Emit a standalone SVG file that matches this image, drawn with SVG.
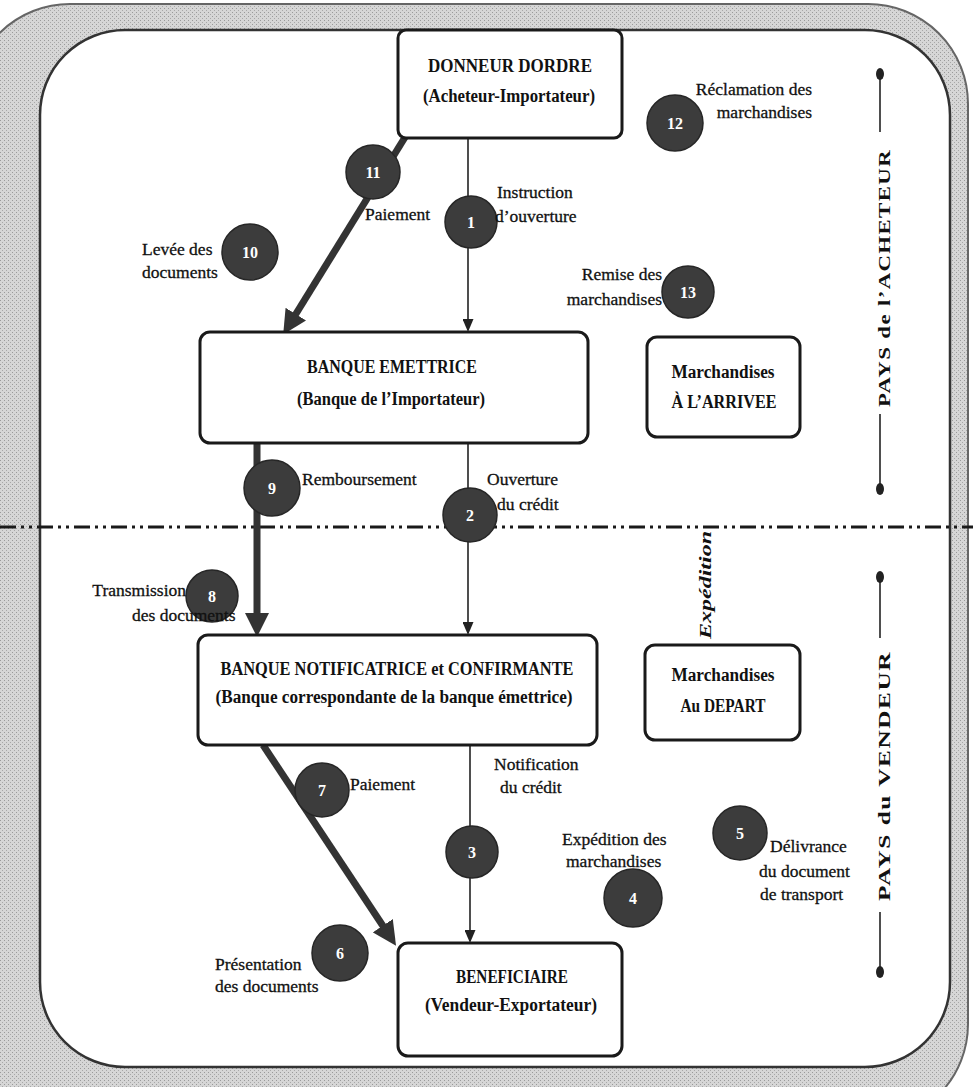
<svg xmlns="http://www.w3.org/2000/svg" width="973" height="1087" viewBox="0 0 973 1087">
<style>
.box{fill:#fff;stroke:#1a1a1a;stroke-width:3}
.title{font-family:"Liberation Serif",serif;font-weight:bold;font-size:18px;fill:#111;text-anchor:middle}
.lbl{font-family:"Liberation Serif",serif;font-size:17.5px;fill:#111;stroke:#111;stroke-width:0.3}
.num{font-family:"Liberation Serif",serif;font-weight:bold;font-size:16px;fill:#fff;text-anchor:middle}
.step{fill:#3c3c3c;stroke:#262626;stroke-width:1.5}
.thin{stroke:#222;stroke-width:1.6;fill:none}
.thick{stroke:#333;stroke-width:7;fill:none}
.side{font-family:"Liberation Serif",serif;font-weight:bold;font-size:17px;fill:#111;text-anchor:middle;letter-spacing:1px}
.sline{stroke:#222;stroke-width:1.6}
</style>
<defs>
<marker id="aThin" markerUnits="userSpaceOnUse" markerWidth="13" markerHeight="11" refX="2" refY="5.5" orient="auto">
<path d="M0,0 L13,5.5 L0,11 z" fill="#222"/>
</marker>
<marker id="aThick" markerUnits="userSpaceOnUse" markerWidth="24" markerHeight="24" refX="4" refY="12" orient="auto">
<path d="M0,0 L24,12 L0,24 z" fill="#333"/>
</marker>
<pattern id="grain" width="4" height="4" patternUnits="userSpaceOnUse">
<rect width="4" height="4" fill="#d6d6d6"/>
<rect x="0" y="0" width="1" height="1" fill="#9a9a9a"/>
<rect x="2" y="2" width="1" height="1" fill="#a8a8a8"/>
</pattern>
</defs>

<g id="frame">
<rect x="-30" y="4" width="998" height="1120" rx="100" fill="url(#grain)" stroke="#666" stroke-width="2"/>
<rect x="40" y="30" width="910" height="1037" rx="85" fill="#fff" stroke="#333" stroke-width="2.5"/>
</g>

<g id="separator">
<line x1="0" y1="527" x2="973" y2="527" stroke="#1a1a1a" stroke-width="3" stroke-dasharray="16 5 3 5 3 5"/>
</g>

<g id="connectors">
<line class="thick" x1="407" y1="134" x2="293.7" y2="317.5" marker-end="url(#aThick)"/>
<line class="thin" x1="468" y1="138" x2="468" y2="321" marker-end="url(#aThin)"/>
<line class="thick" x1="257" y1="443" x2="257" y2="617" marker-end="url(#aThick)"/>
<line class="thin" x1="468" y1="443" x2="468" y2="624" marker-end="url(#aThin)"/>
<line class="thick" x1="263" y1="745" x2="385" y2="929" marker-end="url(#aThick)"/>
<line class="thin" x1="470" y1="745" x2="470" y2="932" marker-end="url(#aThin)"/>
</g>

<g id="node-donneur">
<rect class="box" x="398" y="30" width="224" height="108" rx="8"/>
<text class="title" x="510" y="72" textLength="164" lengthAdjust="spacingAndGlyphs">DONNEUR DORDRE</text>
<text class="title" x="509" y="102" textLength="172" lengthAdjust="spacingAndGlyphs">(Acheteur-Importateur)</text>
</g>

<g id="node-emettrice">
<rect class="box" x="200" y="332" width="388" height="111" rx="10"/>
<text class="title" x="392" y="373" textLength="170" lengthAdjust="spacingAndGlyphs">BANQUE EMETTRICE</text>
<text class="title" x="391" y="405" textLength="188" lengthAdjust="spacingAndGlyphs">(Banque de l’Importateur)</text>
</g>

<g id="node-arrivee">
<rect class="box" x="647" y="337" width="153" height="100" rx="10"/>
<text class="title" x="723" y="378" textLength="103" lengthAdjust="spacingAndGlyphs">Marchandises</text>
<text class="title" x="724" y="408" textLength="105" lengthAdjust="spacingAndGlyphs">À L’ARRIVEE</text>
</g>

<g id="node-notificatrice">
<rect class="box" x="198" y="635" width="399" height="110" rx="10"/>
<text class="title" x="397" y="675" textLength="353" lengthAdjust="spacingAndGlyphs">BANQUE NOTIFICATRICE et CONFIRMANTE</text>
<text class="title" x="394" y="703" textLength="357" lengthAdjust="spacingAndGlyphs">(Banque correspondante de la banque émettrice)</text>
</g>

<g id="node-depart">
<rect class="box" x="645" y="645" width="155" height="95" rx="10"/>
<text class="title" x="723" y="681" textLength="103" lengthAdjust="spacingAndGlyphs">Marchandises</text>
<text class="title" x="723" y="712" textLength="85" lengthAdjust="spacingAndGlyphs">Au DEPART</text>
</g>

<g id="node-beneficiaire">
<rect class="box" x="398" y="943" width="224" height="113" rx="10"/>
<text class="title" x="512" y="983" textLength="112" lengthAdjust="spacingAndGlyphs">BENEFICIAIRE</text>
<text class="title" x="511" y="1011" textLength="172" lengthAdjust="spacingAndGlyphs">(Vendeur-Exportateur)</text>
</g>

<g id="step-1">
<circle class="step" cx="471" cy="222" r="26"/>
<text class="num" x="471" y="228">1</text>
<text class="lbl" x="497" y="198">Instruction</text>
<text class="lbl" x="495" y="222">d’ouverture</text>
</g>
<g id="step-2">
<circle class="step" cx="470" cy="515" r="27"/>
<text class="num" x="470" y="521">2</text>
<text class="lbl" x="487" y="485">Ouverture</text>
<text class="lbl" x="497" y="510">du crédit</text>
</g>
<g id="step-3">
<circle class="step" cx="472" cy="852" r="26"/>
<text class="num" x="472" y="858">3</text>
<text class="lbl" x="494" y="770">Notification</text>
<text class="lbl" x="500" y="793">du crédit</text>
</g>
<g id="step-4">
<circle class="step" cx="633" cy="898" r="29"/>
<text class="num" x="633" y="904">4</text>
<text class="lbl" x="562" y="845">Expédition des</text>
<text class="lbl" x="566" y="867">marchandises</text>
</g>
<g id="step-5">
<circle class="step" cx="740" cy="833" r="27"/>
<text class="num" x="740" y="839">5</text>
<text class="lbl" x="770" y="852">Délivrance</text>
<text class="lbl" x="759" y="877">du document</text>
<text class="lbl" x="760" y="900">de transport</text>
</g>
<g id="step-6">
<circle class="step" cx="340" cy="953" r="28"/>
<text class="num" x="340" y="959">6</text>
<text class="lbl" x="215" y="970">Présentation</text>
<text class="lbl" x="215" y="992">des documents</text>
</g>
<g id="step-7">
<circle class="step" cx="322" cy="790" r="27"/>
<text class="num" x="322" y="796">7</text>
<text class="lbl" x="350" y="790">Paiement</text>
</g>
<g id="step-8">
<circle class="step" cx="212" cy="596" r="26"/>
<text class="num" x="212" y="602">8</text>
<text class="lbl" x="186" y="596" text-anchor="end">Transmission</text>
<text class="lbl" x="132" y="621">des documents</text>
</g>
<g id="step-9">
<circle class="step" cx="272" cy="488" r="28"/>
<text class="num" x="272" y="494">9</text>
<text class="lbl" x="302" y="485">Remboursement</text>
</g>
<g id="step-10">
<circle class="step" cx="250" cy="252" r="28"/>
<text class="num" x="250" y="258">10</text>
<text class="lbl" x="142" y="255">Levée des</text>
<text class="lbl" x="142" y="278">documents</text>
</g>
<g id="step-11">
<circle class="step" cx="373" cy="172" r="27"/>
<text class="num" x="373" y="178">11</text>
<text class="lbl" x="365" y="220">Paiement</text>
</g>
<g id="step-12">
<circle class="step" cx="675" cy="123" r="28"/>
<text class="num" x="675" y="129">12</text>
<text class="lbl" x="812" y="95" text-anchor="end">Réclamation des</text>
<text class="lbl" x="812" y="118" text-anchor="end">marchandises</text>
</g>
<g id="step-13">
<circle class="step" cx="688" cy="292" r="26"/>
<text class="num" x="688" y="298">13</text>
<text class="lbl" x="662" y="280" text-anchor="end">Remise des</text>
<text class="lbl" x="662" y="305" text-anchor="end">marchandises</text>
</g>

<g id="side-acheteur">
<ellipse cx="880" cy="74" rx="4" ry="6" fill="#222"/>
<line class="sline" x1="880" y1="78" x2="880" y2="132"/>
<text class="side" transform="translate(890,278) rotate(-90)" textLength="258" lengthAdjust="spacingAndGlyphs">PAYS de l’ACHETEUR</text>
<line class="sline" x1="880" y1="414" x2="880" y2="484"/>
<ellipse cx="880" cy="489" rx="4" ry="6" fill="#222"/>
</g>

<g id="side-vendeur">
<ellipse cx="880" cy="577" rx="4" ry="6" fill="#222"/>
<line class="sline" x1="880" y1="581" x2="880" y2="638"/>
<text class="side" transform="translate(890,776) rotate(-90)" textLength="250" lengthAdjust="spacingAndGlyphs">PAYS du VENDEUR</text>
<line class="sline" x1="880" y1="912" x2="880" y2="968"/>
<ellipse cx="880" cy="972" rx="4" ry="6" fill="#222"/>
</g>

<g id="expedition">
<text transform="translate(711,585) rotate(-90)" font-family="'Liberation Serif',serif" font-weight="bold" font-style="italic" font-size="17" fill="#111" text-anchor="middle" textLength="108" lengthAdjust="spacingAndGlyphs">Expédition</text>
</g>
</svg>
